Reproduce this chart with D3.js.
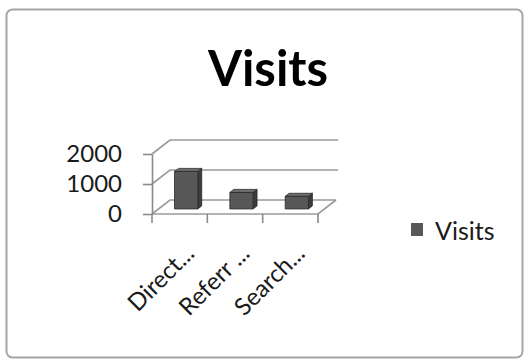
<!DOCTYPE html>
<html>
<head>
<meta charset="utf-8">
<script src="https://cdn.jsdelivr.net/npm/d3@7"></script>
<style>
  html, body { margin: 0; padding: 0; background: #fff; }
  svg { display: block; }
  text { font-family: Lato, "Open Sans", sans-serif; }
</style>
</head>
<body>
<svg id="chart" width="525" height="359"></svg>
<script>
// Visits by traffic source
const categories = ["Direct...", "Referr ...", "Search..."];
const visits = [1250, 550, 420];
const yTicks = [0, 1000, 2000];
const seriesName = "Visits";

const svg = d3.select("#chart");

// outer chart frame
svg.append("rect")
  .attr("x", 6.5).attr("y", 9.5)
  .attr("width", 516).attr("height", 348)
  .attr("rx", 6)
  .attr("fill", "#fff")
  .attr("stroke", "#a6a6a6")
  .attr("stroke-width", 2);

// title
svg.append("text")
  .attr("x", 268).attr("y", 86)
  .attr("text-anchor", "middle")
  .attr("font-size", 49)
  .attr("font-weight", "bold")
  .attr("fill", "#000")
  .text(seriesName);

// 3D projection: depth d in [0,1] shifts right and up
const DX = 18, DY = 14;
const x = d3.scaleBand().domain(categories).range([152, 318]).padding(0);
const y = d3.scaleLinear().domain([0, 2000]).range([214, 154]);
const x0 = x.range()[0], x1 = x.range()[1];

const grid = svg.append("g")
  .attr("fill", "none")
  .attr("stroke", "#9a9a9a")
  .attr("stroke-width", 1.6);

// side-wall and back-wall gridlines
yTicks.forEach(v => {
  const yy = y(v);
  grid.append("path")
    .attr("d", d3.line()([[x0, yy], [x0 + DX, yy - DY], [x1 + DX + (v === 0 ? 0 : 2), yy - DY]]));
});
// floor outline
grid.append("path")
  .attr("d", d3.line()([[x0, y(0)], [x1, y(0)], [x1 + DX, y(0) - DY]]));

// y axis
const yAxis = svg.append("g")
  .attr("transform", `translate(${x0},0)`)
  .call(d3.axisLeft(y).tickValues(yTicks).tickSize(9).tickSizeOuter(0).tickPadding(21).tickFormat(d3.format("d")));
yAxis.select(".domain").attr("stroke", "#8a8a8a").attr("stroke-width", 1.6);
yAxis.selectAll(".tick line").attr("stroke", "#8a8a8a").attr("stroke-width", 1.6);
yAxis.selectAll(".tick text")
  .attr("font-size", 24)
  .attr("font-family", "Lato, sans-serif")
  .attr("fill", "#1a1a1a");

// category ticks at band boundaries
const bounds = categories.map(c => x(c)).concat([x1]);
svg.append("g").selectAll("line").data(bounds).join("line")
  .attr("x1", d => d).attr("x2", d => d)
  .attr("y1", y(0)).attr("y2", y(0) + 9)
  .attr("stroke", "#8a8a8a").attr("stroke-width", 1.6);

// bars
const d0 = 0.36, d1 = 0.58;
const barFrac = 0.42;
const bars = svg.append("g")
  .attr("stroke", "#2a2a2a")
  .attr("stroke-width", 0.8)
  .attr("stroke-linejoin", "round");

categories.forEach((c, i) => {
  const bw = x.bandwidth() * barFrac;
  const left = x(c) + (x.bandwidth() - bw) / 2 + d0 * DX;
  const right = left + bw;
  const bottom = y(0) - d0 * DY;
  const top = y(visits[i]) - d0 * DY;
  const ddx = (d1 - d0) * DX, ddy = (d1 - d0) * DY;

  bars.append("path").attr("fill", "#3c3c3c")
    .attr("d", d3.line()([[right, top], [right + ddx, top - ddy], [right + ddx, bottom - ddy], [right, bottom]]) + "Z");
  bars.append("path").attr("fill", "#6e6e6e")
    .attr("d", d3.line()([[left, top], [right, top], [right + ddx, top - ddy], [left + ddx, top - ddy]]) + "Z");
  bars.append("rect").attr("fill", "#585858")
    .attr("x", left).attr("y", top)
    .attr("width", bw).attr("height", bottom - top);
});

// rotated category labels
svg.append("g").selectAll("text").data(categories).join("text")
  .attr("transform", d => `translate(${x(d) + x.bandwidth() / 2 + 16},${y(0) + 41}) rotate(-45)`)
  .attr("text-anchor", "end")
  .attr("font-size", 24)
  .attr("fill", "#1a1a1a")
  .text(d => d);

// legend
const legend = svg.append("g");
legend.append("rect")
  .attr("x", 411).attr("y", 223)
  .attr("width", 12).attr("height", 13)
  .attr("fill", "#585858");
legend.append("text")
  .attr("x", 435).attr("y", 240)
  .attr("font-size", 25)
  .attr("fill", "#1a1a1a")
  .text(seriesName);
</script>
</body>
</html>
